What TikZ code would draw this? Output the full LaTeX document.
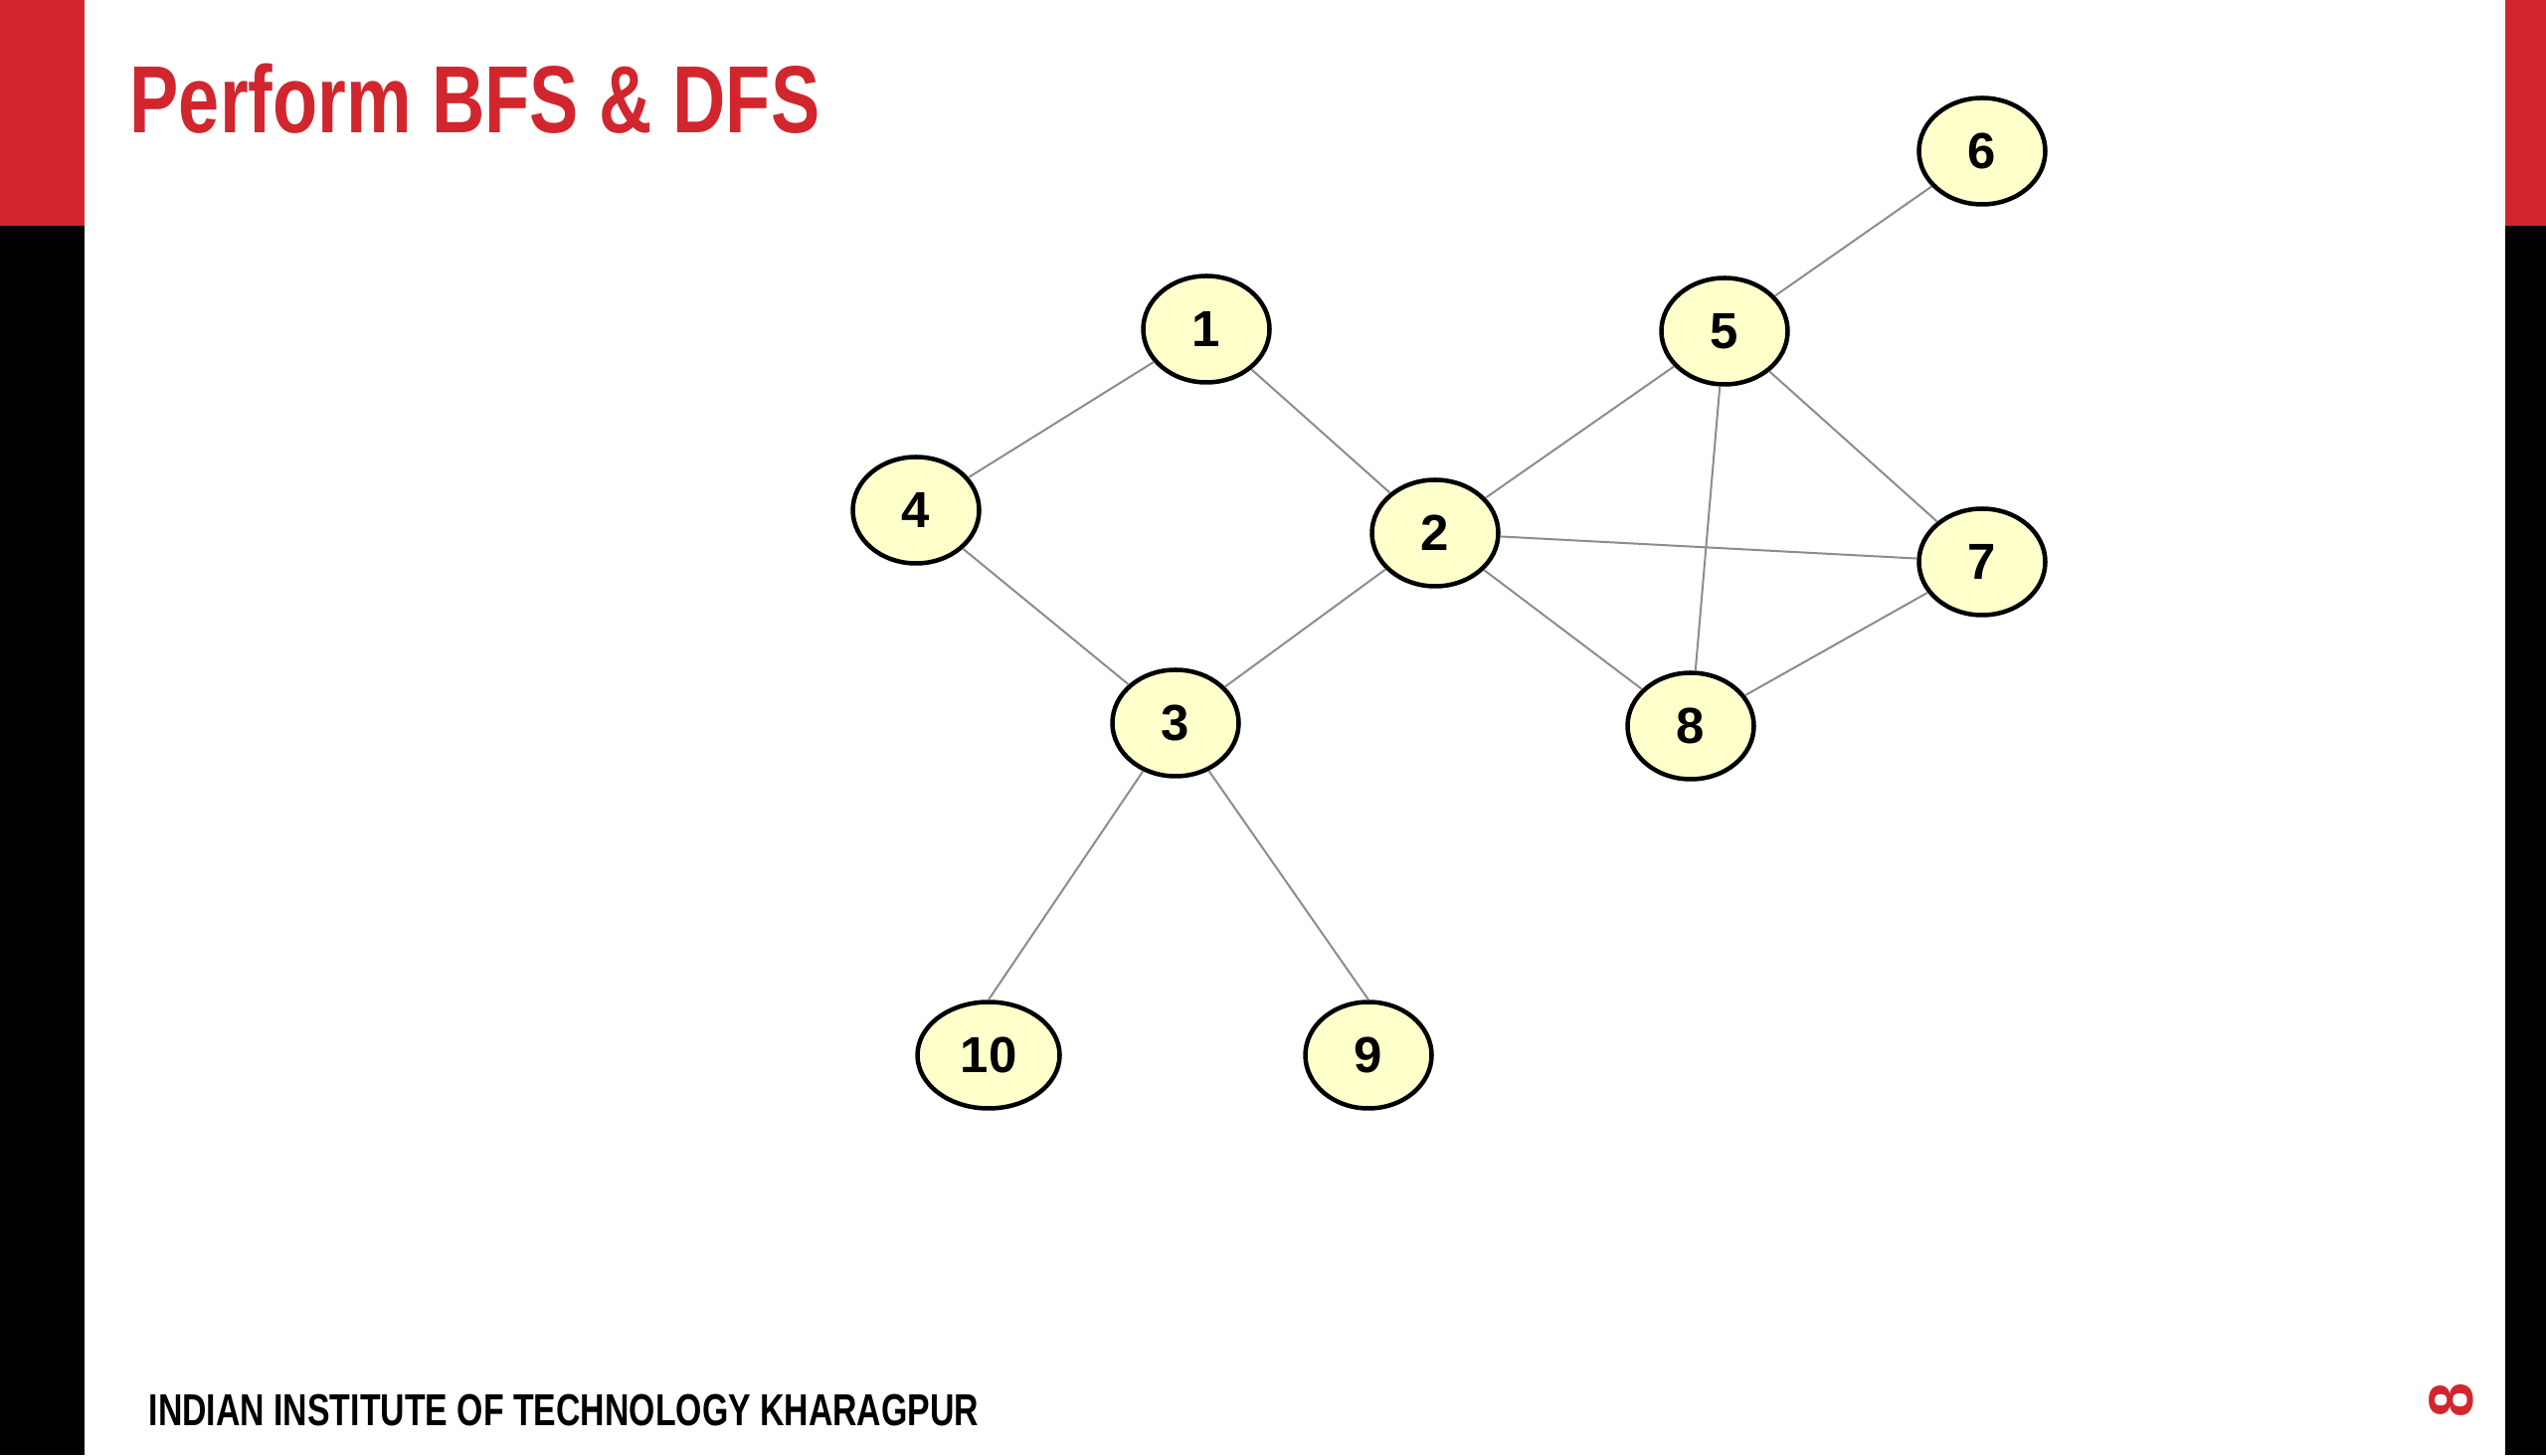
\documentclass[tikz,border=0pt]{standalone}
\usepackage{fontspec}
\setmainfont{Liberation Sans}
\newfontfamily\narrowfont[FakeStretch=0.77]{Liberation Sans}
\newfontfamily\footfont[FakeStretch=0.752]{Liberation Sans}
\usetikzlibrary{shapes.geometric}

\definecolor{iitred}{HTML}{D1262D}
\definecolor{vertfill}{HTML}{FFFFCC}
\definecolor{edgegray}{HTML}{8C8C8C}

\begin{document}
\begin{tikzpicture}[
  vert/.style={draw, ellipse, line width=0.045cm, fill=vertfill, inner sep=0pt,
               minimum width=1.27cm, minimum height=1.07cm,
               font=\fontsize{14.5pt}{16pt}\selectfont\bfseries},
  edge/.style={draw=edgegray, line width=0.02cm},
]
\useasboundingbox (0,0) rectangle (25.6,14.63);

% side bars
\fill[iitred] (0,12.36) rectangle (0.85,14.63);
\fill[black] (0,0) rectangle (0.85,12.36);
\fill[iitred] (25.19,12.36) rectangle (25.6,14.63);
\fill[black] (25.19,0) rectangle (25.6,12.36);

\node[anchor=base west, inner sep=0pt, text=iitred,
      font=\fontsize{27.3pt}{30pt}\narrowfont\bfseries] (title) at (1.30,13.29) {Perform BFS \& DFS};
\node[anchor=base west, inner sep=0pt,
      font=\fontsize{12.8pt}{15pt}\footfont\bfseries] (footer) at (1.49,0.30) {INDIAN INSTITUTE OF TECHNOLOGY KHARAGPUR};
\node[rotate=90, inner sep=0pt, text=iitred,
      font=\fontsize{17.9pt}{20pt}\selectfont\bfseries] (pageno) at (24.65,0.55) {8};

% vertices
\node[vert] (v1) at (12.13,11.32) {1};
\node[vert] (v2) at (14.43,9.27) {2};
\node[vert] (v3) at (11.82,7.36) {3};
\node[vert] (v4) at (9.21,9.50) {4};
\node[vert] (v5) at (17.34,11.30) {5};
\node[vert] (v6) at (19.93,13.11) {6};
\node[vert] (v7) at (19.93,8.98) {7};
\node[vert] (v8) at (17.00,7.33) {8};
\node[vert] (v9) at (13.76,4.02) {9};
\node[vert, minimum width=1.43cm] (v10) at (9.94,4.02) {10};

% edges
\draw[edge] (v1) -- (v4);
\draw[edge] (v1) -- (v2);
\draw[edge] (v4) -- (v3);
\draw[edge] (v2) -- (v3);
\draw[edge] (v2) -- (v5);
\draw[edge] (v2) -- (v7);
\draw[edge] (v2) -- (v8);
\draw[edge] (v5) -- (v6);
\draw[edge] (v5) -- (v7);
\draw[edge] (v5) -- (v8);
\draw[edge] (v7) -- (v8);
\draw[edge] (v3) -- (v10.north);
\draw[edge] (v3) -- (v9.north);
\end{tikzpicture}
\end{document}
